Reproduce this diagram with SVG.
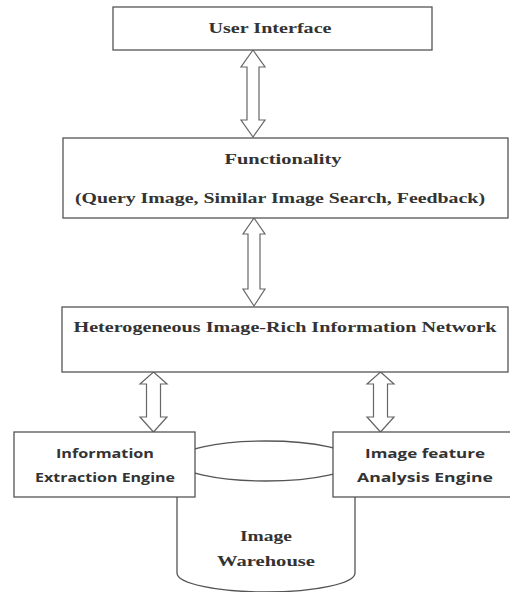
<svg xmlns="http://www.w3.org/2000/svg" width="510" height="592" viewBox="0 0 510 592">
<style>
.box{fill:#fff;stroke:#555;stroke-width:1.3}
.arr{fill:#fff;stroke:#666;stroke-width:1.2;stroke-linejoin:miter}
.cyl{fill:#fff;stroke:#555;stroke-width:1.3}
.t{font-family:"Liberation Serif","DejaVu Serif",serif;font-weight:bold;font-size:15px;fill:#333;text-anchor:middle}
.s{font-family:"Open Sans","Liberation Sans",sans-serif;font-weight:bold;font-size:13px;fill:#333;text-anchor:middle}
</style>
<rect width="510" height="592" fill="#fff"/>
<g id="image-warehouse">
<path class="cyl" d="M177,461 L177,573 A89,19 0 0 0 355,573 L355,461"/>
<ellipse class="cyl" cx="266" cy="461" rx="89" ry="20"/>
<text class="t" x="266" y="541" textLength="52" lengthAdjust="spacingAndGlyphs">Image</text>
<text class="t" x="266" y="566" textLength="98" lengthAdjust="spacingAndGlyphs">Warehouse</text>
</g>
<g id="connectors">
<polygon class="arr" points="253,50 265,67 259,67 259,120 265,120 253,137 241,120 247,120 247,67 241,67"/>
<polygon class="arr" points="254,218 265,234 260,234 260,289 265,289 254,306 243,289 248,289 248,234 243,234"/>
<polygon class="arr" points="153.5,372 167,384 160.5,384 160.5,417 167,417 153.5,432 140,417 146.5,417 146.5,384 140,384"/>
<polygon class="arr" points="380.5,372 394,384 387.5,384 387.5,417 394,417 380.5,432 367,417 373.5,417 373.5,384 367,384"/>
</g>
<g id="user-interface">
<rect class="box" x="113" y="7" width="319" height="43"/>
<text class="t" x="270" y="33" textLength="123" lengthAdjust="spacingAndGlyphs">User Interface</text>
</g>
<g id="functionality">
<rect class="box" x="63" y="138" width="445" height="80"/>
<text class="t" x="283" y="164" textLength="117" lengthAdjust="spacingAndGlyphs">Functionality</text>
<text class="t" x="280" y="203" textLength="410" lengthAdjust="spacingAndGlyphs">(Query Image, Similar Image Search, Feedback)</text>
</g>
<g id="heterogeneous-network">
<rect class="box" x="62" y="307" width="446" height="65"/>
<text class="t" x="285" y="332" textLength="423" lengthAdjust="spacingAndGlyphs">Heterogeneous Image-Rich Information Network</text>
</g>
<g id="information-extraction-engine">
<rect class="box" x="14" y="432" width="181" height="65"/>
<text class="s" x="105" y="458" textLength="98" lengthAdjust="spacingAndGlyphs">Information</text>
<text class="s" x="105" y="482" textLength="140" lengthAdjust="spacingAndGlyphs">Extraction Engine</text>
</g>
<g id="image-feature-analysis-engine">
<rect class="box" x="333" y="432" width="180" height="65"/>
<text class="s" x="425" y="458" textLength="120" lengthAdjust="spacingAndGlyphs">Image feature</text>
<text class="s" x="425" y="482" textLength="136" lengthAdjust="spacingAndGlyphs">Analysis Engine</text>
</g>
</svg>
